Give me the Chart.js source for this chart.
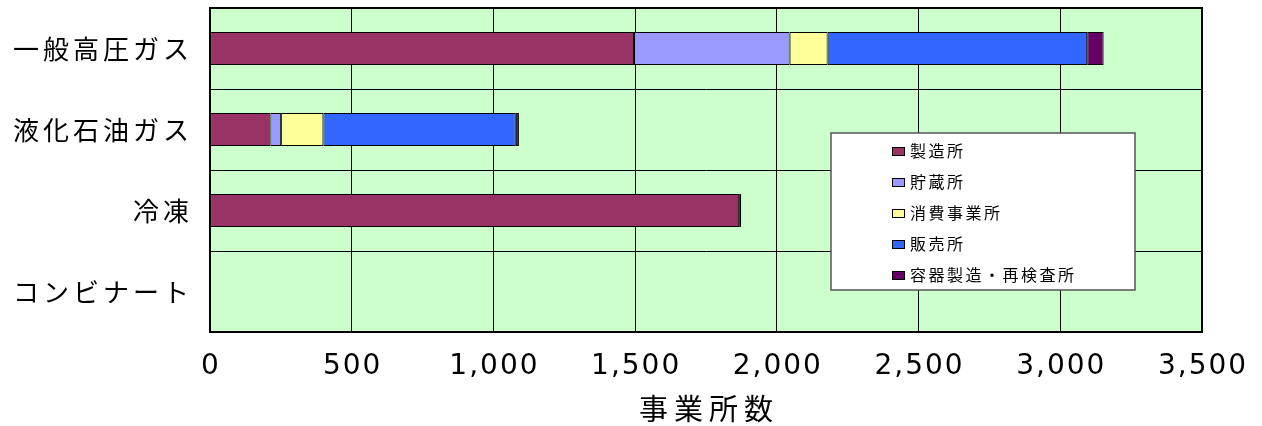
<!DOCTYPE html>
<html lang="ja">
<head>
<meta charset="utf-8">
<title>事業所数</title>
<script src="https://cdn.jsdelivr.net/npm/chart.js@4.4.1/dist/chart.umd.min.js"></script>
<style>
    html, body { margin: 0; padding: 0; background: #fff; }
    #wrap { width: 1262px; height: 426px; position: relative; }
</style>
</head>
<body>
<div id="wrap"><canvas id="chart"></canvas></div>
<script>
// Categories and series
const categories = ['一般高圧ガス', '液化石油ガス', '冷凍', 'コンビナート'];
const seriesNames = ['製造所', '貯蔵所', '消費事業所', '販売所', '容器製造・再検査所'];
const seizo = [1496, 213, 1867, 0];
const chozo = [549, 38, 0, 0];
const shohi = [134, 149, 0, 0];
const hanbai = [916, 679, 0, 0];
const yoki = [58, 11, 7, 0];
const xTicks = [0, 500, 1000, 1500, 2000, 2500, 3000, 3500];
const xTitle = '事業所数';

const colors = ['#993366', '#9999FF', '#FFFF99', '#3366FF', '#660066'];
const seriesValues = [seizo, chozo, shohi, hanbai, yoki];

const JP = '"Noto Sans CJK JP", "Noto Sans", sans-serif';

// Background, frame, axis labels and legend box
const decorPlugin = {
    id: 'decor',
    beforeDraw(chart) {
        const { ctx, chartArea: a } = chart;
        ctx.save();
        ctx.fillStyle = '#CCFFCC';
        ctx.fillRect(a.left, a.top, a.right - a.left, a.bottom - a.top);
        ctx.restore();
    },
    afterDraw(chart) {
        const { ctx, chartArea: a } = chart;
        const xs = chart.scales.x;
        const ys = chart.scales.y;
        ctx.save();

        // plot frame
        ctx.strokeStyle = '#000';
        ctx.lineWidth = 2;
        ctx.strokeRect(a.left, a.top, a.right - a.left, a.bottom - a.top);

        // category labels
        ctx.fillStyle = '#000';
        ctx.font = '26px ' + JP;
        ctx.letterSpacing = '4px';
        ctx.textAlign = 'right';
        ctx.textBaseline = 'middle';
        categories.forEach((c, i) => {
            ctx.fillText(c, 193, ys.getPixelForValue(i) + 1);
        });

        // value tick labels
        ctx.font = '28px "DejaVu Sans", sans-serif';
        ctx.letterSpacing = '2px';
        ctx.textAlign = 'center';
        ctx.textBaseline = 'alphabetic';
        xTicks.forEach(v => {
            ctx.fillText(v.toLocaleString('en-US'), xs.getPixelForValue(v) + 1, 374);
        });

        // axis title
        ctx.font = '29px ' + JP;
        ctx.letterSpacing = '6px';
        ctx.textBaseline = 'middle';
        ctx.fillText(xTitle, (a.left + a.right) / 2 + 3, 409);

        // legend
        const lx = 831, ly = 133, lw = 304, lh = 157;
        ctx.letterSpacing = '0px';
        ctx.fillStyle = '#fff';
        ctx.fillRect(lx, ly, lw, lh);
        ctx.strokeStyle = '#555';
        ctx.lineWidth = 1.5;
        ctx.strokeRect(lx, ly, lw, lh);
        ctx.font = '16px ' + JP;
        ctx.letterSpacing = '2.5px';
        ctx.textAlign = 'left';
        ctx.textBaseline = 'middle';
        seriesNames.forEach((name, i) => {
            const cy = 151 + i * 31;
            ctx.fillStyle = colors[i];
            ctx.fillRect(892, cy - 4, 12, 8);
            ctx.strokeStyle = '#000';
            ctx.lineWidth = 1;
            ctx.strokeRect(892.5, cy - 3.5, 12, 8);
            ctx.fillStyle = '#000';
            ctx.fillText(name, 910, cy);
        });
        ctx.restore();
    }
};

const ctx = document.getElementById('chart').getContext('2d');
new Chart(ctx, {
    type: 'bar',
    data: {
        labels: categories,
        datasets: seriesNames.map((name, i) => ({
            label: name,
            data: seriesValues[i],
            backgroundColor: colors[i],
            borderColor: '#000',
            borderWidth: 1,
            borderSkipped: false,
            categoryPercentage: 1,
            barPercentage: 0.41
        }))
    },
    options: {
        indexAxis: 'y',
        responsive: true,
        maintainAspectRatio: false,
        animation: false,
        layout: {
            padding: { top: 8, right: 60, left: 0, bottom: 0 }
        },
        plugins: {
            legend: { display: false },
            tooltip: { enabled: false }
        },
        scales: {
            x: {
                stacked: true,
                min: 0,
                max: 3500,
                ticks: { stepSize: 500, display: false },
                grid: { color: '#000', lineWidth: 1, drawTicks: false },
                border: { color: '#000', width: 2 },
                afterFit(scale) { scale.height = 94; }
            },
            y: {
                stacked: true,
                ticks: { display: false },
                grid: { color: '#000', lineWidth: 1, drawTicks: false },
                border: { color: '#000', width: 2 },
                afterFit(scale) { scale.width = 210; }
            }
        }
    },
    plugins: [decorPlugin]
});
</script>
</body>
</html>
